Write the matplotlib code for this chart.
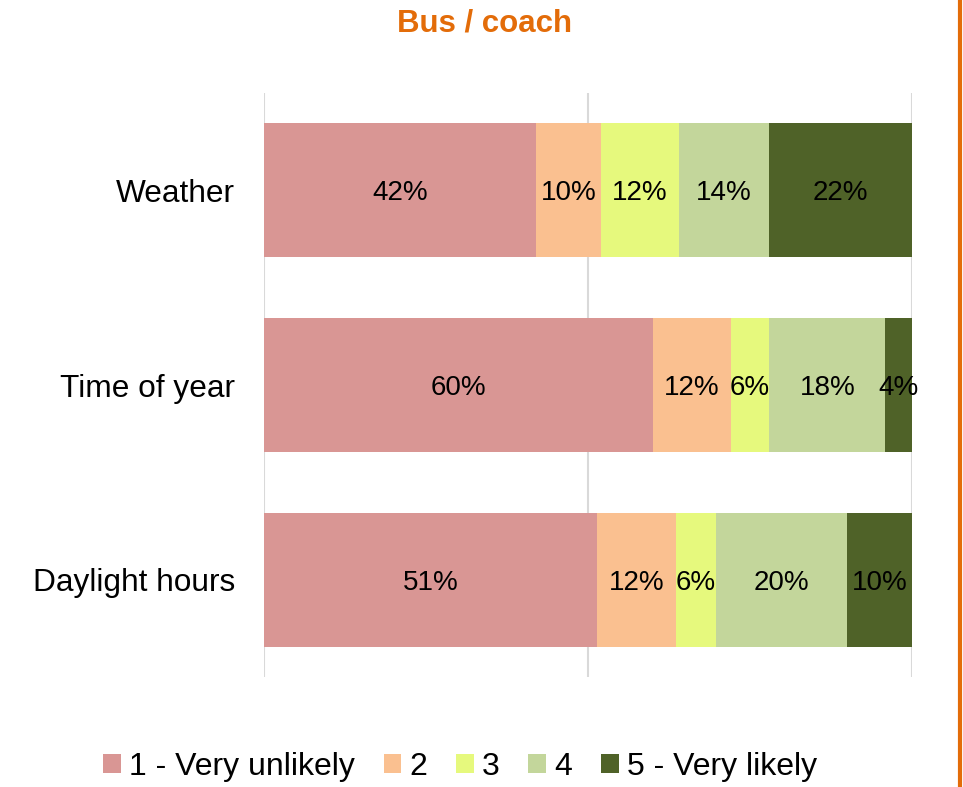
import matplotlib
matplotlib.use("Agg")
from matplotlib import pyplot as plt
from matplotlib.lines import Line2D
from matplotlib.patches import Patch

plt.rcParams['font.family'] = ['Liberation Sans', 'DejaVu Sans']

categories = ["Weather", "Time of year", "Daylight hours"]
series_names = ["1 - Very unlikely", "2", "3", "4", "5 - Very likely"]
# shares per category (percent), in the order of series_names
weather = [42.0, 10.0, 12.0, 14.0, 22.0]
time_of_year = [60.0, 12.0, 6.0, 17.9, 4.1]
daylight = [51.4, 12.2, 6.1, 20.2, 10.1]
colours = ["#D99694", "#FAC090", "#E6F97D", "#C3D69B", "#4F6228"]

rows = [weather, time_of_year, daylight]

fig = plt.figure(figsize=(9.63, 7.87), dpi=100)
ax = fig.add_axes([264 / 963, 1 - 677 / 787, 648 / 963, 584 / 787])

for i, vals in enumerate(rows):
    left = 0
    for j, v in enumerate(vals):
        ax.barh(i, v, left=left, height=0.69, color=colours[j], zorder=2)
        ax.text(left + v / 2, i + 0.015, f"{round(v)}%", ha="center", va="center",
                fontsize=20, color="black", zorder=3)
        left += v

ax.set_ylim(2.5, -0.5)
ax.set_xlim(0, 100)
ax.set_yticks(range(len(categories)))
ax.set_yticklabels(categories, fontsize=22.8)
ax.tick_params(axis="y", length=0, pad=21)
ax.set_xticks([0, 50, 100])
ax.set_xticklabels([])
ax.tick_params(axis="x", length=0)
ax.grid(axis="x", color="#D9D9D9", linewidth=1.5, zorder=0)
for s in ax.spines.values():
    s.set_visible(False)

fig.text(485 / 963, 1 - 23 / 787, "Bus / coach", ha="center", va="center",
         fontsize=22.5, fontweight="bold", color="#E36C09")

# orange border on the right edge
fig.add_artist(Line2D([960 / 963, 960 / 963], [0, 1], color="#E36C09",
                      linewidth=3, transform=fig.transFigure))

handles = [Patch(facecolor=c, edgecolor="none") for c in colours]
fig.legend(handles, series_names, loc="center", ncol=5,
           bbox_to_anchor=(460 / 963, 1 - 767 / 787), frameon=False,
           fontsize=23, handlelength=0.56, handleheight=0.56,
           handletextpad=0.25, columnspacing=0.9)

fig.savefig("out.png", dpi=100)
